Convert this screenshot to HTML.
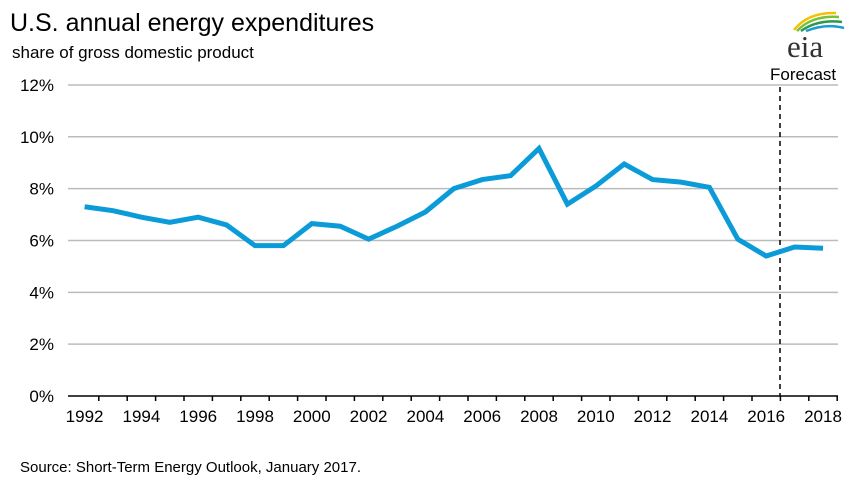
<!DOCTYPE html>
<html><head><meta charset="utf-8"><style>
body{margin:0;background:#fff;font-family:"Liberation Sans",Arial,sans-serif;}
svg text{font-family:"Liberation Sans",Arial,sans-serif;}
svg text.serif{font-family:"Liberation Serif",serif;}
</style></head><body>
<svg width="861" height="497" viewBox="0 0 861 497">
<text x="10" y="31" font-size="25" fill="#000">U.S. annual energy expenditures</text>
<text x="12" y="58" font-size="17" fill="#000">share of gross domestic product</text>
<g>
<path d="M794 30 Q808 12 836 13" stroke="#f2c200" stroke-width="2.5" fill="none"/>
<path d="M797 31 Q812 15 839 17" stroke="#7cbf3a" stroke-width="2.5" fill="none"/>
<path d="M801 31 Q818 19 842 22" stroke="#2a9a4a" stroke-width="2.5" fill="none"/>
<path d="M806 31 Q826 23 844 28" stroke="#1a9ad6" stroke-width="2.5" fill="none"/>
<text class="serif" x="787" y="57" font-size="31" fill="#333">eia</text>
</g>
<text x="770" y="80" font-size="17" fill="#000">Forecast</text>
<g id="grid"></g><g id="yl"></g><g id="xl"></g>
<line x1="780" y1="87" x2="780" y2="396" stroke="#000" stroke-width="1.5" stroke-dasharray="5,4"/>
<polyline id="ln" fill="none" stroke="#0b9bd8" stroke-width="5" stroke-linejoin="miter"/>
<text x="20" y="472" font-size="15" fill="#000">Source: Short-Term Energy Outlook, January 2017.</text>
</svg>
<script>
const years=[1992,1993,1994,1995,1996,1997,1998,1999,2000,2001,2002,2003,2004,2005,2006,2007,2008,2009,2010,2011,2012,2013,2014,2015,2016,2017,2018];
const shares=[7.3,7.15,6.9,6.7,6.9,6.6,5.8,5.8,6.65,6.55,6.05,6.55,7.1,8.0,8.35,8.5,9.55,7.4,8.1,8.95,8.35,8.25,8.05,6.05,5.4,5.75,5.7];
const yTicks=[0,2,4,6,8,10,12];
const xTicks=[1992,1994,1996,1998,2000,2002,2004,2006,2008,2010,2012,2014,2016,2018];
const NS='http://www.w3.org/2000/svg';
const STEP=28.4;
const X=y=>84.6+(y-1992)*STEP;
const Y=v=>396-v*25.92;
const g=document.getElementById('grid'),yl=document.getElementById('yl'),xl=document.getElementById('xl');
yTicks.forEach(t=>{
const l=document.createElementNS(NS,'line');
l.setAttribute('x1',68);l.setAttribute('x2',838);l.setAttribute('y1',Y(t));l.setAttribute('y2',Y(t));
l.setAttribute('stroke',t===0?'#000':'#bbb');l.setAttribute('stroke-width',1.5);


g.appendChild(l);
const tx=document.createElementNS(NS,'text');
tx.setAttribute('x',54);tx.setAttribute('y',Y(t)+6);tx.setAttribute('text-anchor','end');tx.setAttribute('font-size','17');
tx.textContent=t+'%';


yl.appendChild(tx);
});
years.forEach(y=>{
const tk=document.createElementNS(NS,'line');
const bx=X(y)+STEP/2;
tk.setAttribute('x1',bx);tk.setAttribute('x2',bx);tk.setAttribute('y1',396);tk.setAttribute('y2',401);
tk.setAttribute('stroke','#000');tk.setAttribute('stroke-width',1.5);


g.appendChild(tk);
});
xTicks.forEach(t=>{
const tx=document.createElementNS(NS,'text');
tx.setAttribute('x',X(t));tx.setAttribute('y',422);tx.setAttribute('text-anchor','middle');tx.setAttribute('font-size','17');
tx.textContent=t;


xl.appendChild(tx);
});
document.getElementById('ln').setAttribute('points',years.map((y,i)=>X(y)+','+Y(shares[i])).join(' '));
</script>
</body></html>
